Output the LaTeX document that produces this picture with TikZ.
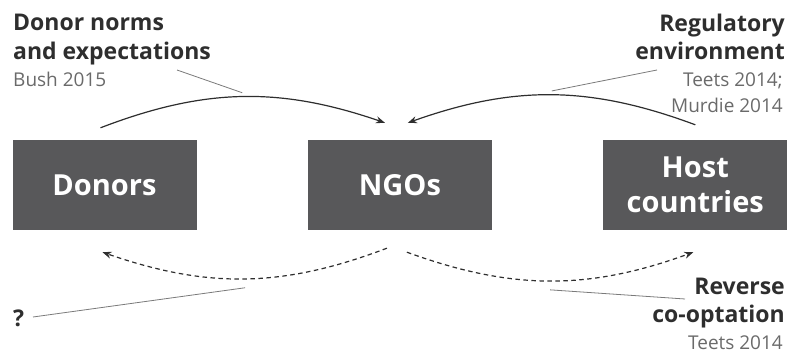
\documentclass[tikz,border=0pt]{standalone}
\usepackage{fontspec}
\setmainfont{Open Sans}
\usetikzlibrary{arrows.meta}
\usetikzlibrary{positioning}
\definecolor{boxgray}{HTML}{58585A}
\definecolor{inkgray}{HTML}{2E2E2E}
\definecolor{citegray}{HTML}{6A6A6A}
\definecolor{leadgray}{HTML}{7A7A7A}

\begin{document}
\begin{tikzpicture}[x=1pt,y=1pt,
    actor/.style={fill=boxgray, text=white, minimum width=184pt, minimum height=90pt,
      inner sep=0pt, align=center, font=\bfseries\fontsize{29}{35}\selectfont},
    topic/.style={text=inkgray, inner sep=0pt, font=\bfseries\fontsize{23}{28.5}\selectfont},
    cite/.style={text=citegray, inner sep=0pt, font=\fontsize{19}{26}\selectfont},
    influence/.style={draw=inkgray, line width=1.2pt, -{Stealth[length=9pt,width=7pt]}},
    feedback/.style={influence, dash pattern=on 4.5pt off 3.5pt},
    leader/.style={draw=leadgray, line width=0.8pt},
    node distance=111pt]
  \useasboundingbox (0,0) rectangle (791,358);

  \node[actor] (donors) at (104.5,173) {Donors};
  \node[actor, right=of donors] (ngos) {NGOs};
  \node[actor, right=of ngos] (host) {Host\\countries};

  \node[topic, anchor=base west, align=left] (norms) at (13,298.5) {Donor norms\\and expectations};
  \node[cite, anchor=base west] (bush) at (13,271) {Bush 2015};
  \node[topic, anchor=base east, align=right] (regulation) at (785,298) {Regulatory\\environment};
  \node[cite, anchor=base east, align=right] (teets) at (783,245) {Teets 2014;\\Murdie 2014};
  \node[topic, anchor=base west] (unknown) at (13,31) {?};
  \node[topic, anchor=base east, align=right] (reverse) at (785,35) {Reverse\\co-optation};
  \node[cite, anchor=base east] (teets-rev) at (783,8) {Teets 2014};

  \draw[influence] ([shift={(-4,12)}]donors.north) to[bend left=20]
    coordinate[pos=0.5] (norms-pt) ([shift={(-15,17)}]ngos.north);
  \draw[influence] ([shift={(0,15)}]host.north) to[bend right=20]
    coordinate[pos=0.5] (reg-pt) ([shift={(8,17)}]ngos.north);
  \draw[feedback] ([shift={(-13,-18)}]ngos.south) to[bend left=20]
    coordinate[pos=0.5] (unknown-pt) ([shift={(-2,-22)}]donors.south);
  \draw[feedback] ([shift={(7,-22)}]ngos.south) to[bend right=20]
    coordinate[pos=0.5] (reverse-pt) ([shift={(-2,-22)}]host.south);

  \coordinate (norms-lead) at (177,288);
  \coordinate (reg-lead) at (657,288);
  \coordinate (unknown-lead) at (33,41);
  \coordinate (reverse-lead) at (685,59);
  \draw[leader] (norms-lead) -- ([yshift=4pt]norms-pt);
  \draw[leader] (reg-lead) -- ([yshift=4pt]reg-pt);
  \draw[leader] (unknown-lead) -- ([yshift=-9pt]unknown-pt);
  \draw[leader] (reverse-lead) -- ([yshift=-9pt]reverse-pt);
\end{tikzpicture}
\end{document}
